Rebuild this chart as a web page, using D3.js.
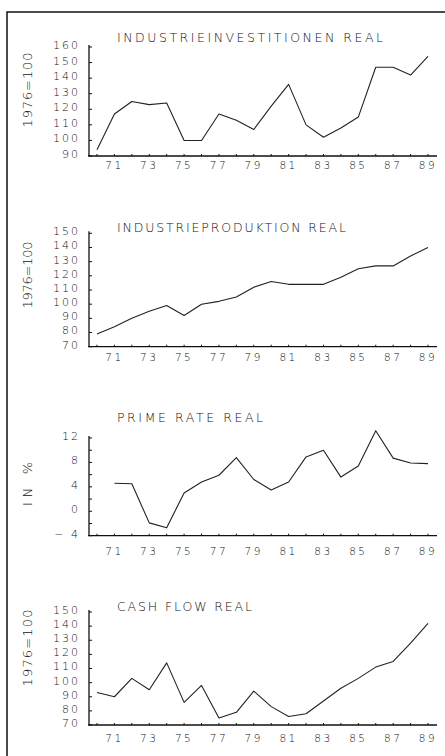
<!DOCTYPE html>
<html>
<head>
<meta charset="utf-8">
<script src="https://cdn.jsdelivr.net/npm/d3@7/dist/d3.min.js"></script>
<style>
  body { margin: 0; background: #fff; }
  svg { display: block; }
  text { font-family: "DejaVu Sans", sans-serif; font-weight: 200; fill: #111; }
</style>
</head>
<body>
<div id="chart"></div>
<script>
// data
var years = [1970, 1971, 1972, 1973, 1974, 1975, 1976, 1977, 1978, 1979,
             1980, 1981, 1982, 1983, 1984, 1985, 1986, 1987, 1988, 1989];
var investitionen = [94, 117, 125, 123, 124, 100, 100, 117, 113, 107,
                     122, 136, 110, 102, 108, 115, 147, 147, 142, 154];
var produktion = [79, 84, 90, 95, 99, 92, 100, 102, 105, 112,
                  116, 114, 114, 114, 119, 125, 127, 127, 134, 140];
var primeRate = [null, 4.6, 4.5, -1.9, -2.7, 3.0, 4.8, 5.9, 8.8, 5.2,
                 3.5, 4.8, 8.9, 10.0, 5.6, 7.4, 13.2, 8.7, 7.9, 7.8];
var cashFlow = [93, 90, 103, 95, 114, 86, 98, 75, 79, 94,
                83, 76, 78, 87, 96, 103, 111, 115, 128, 142];

var xTickYears = [1971, 1973, 1975, 1977, 1979, 1981, 1983, 1985, 1987, 1989];
var xTickLabels = ["71", "73", "75", "77", "79", "81", "83", "85", "87", "89"];
var investTicks = [90, 100, 110, 120, 130, 140, 150, 160];
var indexTicks = [70, 80, 90, 100, 110, 120, 130, 140, 150];
var rateTicks = [-4, 0, 4, 8, 12];
var rateMinor = [-4, -2, 0, 2, 4, 6, 8, 10, 12];

var W = 445, H = 756;

var svg = d3.select("#chart").append("svg")
    .attr("width", W)
    .attr("height", H);

// outer frame (runs off the right and bottom of the scan)
svg.append("path")
    .attr("d", "M7," + (H + 5) + "V12H" + (W + 5))
    .attr("fill", "none")
    .attr("stroke", "#111")
    .attr("stroke-width", 1.5);

var x = d3.scaleLinear().domain([1970, 1989]).range([97, 428]);

var panels = [
  { title: "INDUSTRIEINVESTITIONEN REAL", titleY: 37, titleLen: 266,
    yTitle: "1976=100", yTitleY: 90, yTitleLen: 75,
    values: investitionen, domain: [90, 160], range: [156, 47],
    ticks: investTicks, minor: investTicks, labelOff: 9 },
  { title: "INDUSTRIEPRODUKTION REAL", titleY: 227, titleLen: 229,
    yTitle: "1976=100", yTitleY: 275, yTitleLen: 67,
    values: produktion, domain: [70, 150], range: [346.7, 233.3],
    ticks: indexTicks, minor: indexTicks, labelOff: 11 },
  { title: "PRIME RATE REAL", titleY: 417, titleLen: 146,
    yTitle: "IN %", yTitleY: 484, yTitleLen: 44,
    values: primeRate, domain: [-4, 12], range: [535.7, 438],
    ticks: rateTicks, minor: rateMinor, labelOff: 16 },
  { title: "CASH FLOW REAL", titleY: 606, titleLen: 135,
    yTitle: "1976=100", yTitleY: 648, yTitleLen: 77,
    values: cashFlow, domain: [70, 150], range: [725, 612],
    ticks: indexTicks, minor: indexTicks, labelOff: 13 }
];

panels.forEach(function(p) {
    var y = d3.scaleLinear().domain(p.domain).range(p.range);
    var g = svg.append("g");
    var axisY = p.range[0];

    // title
    g.append("text")
        .attr("x", 117)
        .attr("y", p.titleY)
        .attr("dy", "0.36em")
        .attr("font-size", 12.5)
        .attr("textLength", p.titleLen)
        .attr("lengthAdjust", "spacing")
        .text(p.title);

    // rotated unit label
    g.append("text")
        .attr("transform", "translate(27," + p.yTitleY + ") rotate(-90)")
        .attr("text-anchor", "middle")
        .attr("dy", "0.36em")
        .attr("font-size", 13)
        .attr("textLength", p.yTitleLen)
        .attr("lengthAdjust", "spacing")
        .text(p.yTitle);

    // y axis
    g.append("line")
        .attr("x1", 89).attr("x2", 89)
        .attr("y1", p.range[1] - 2).attr("y2", axisY)
        .attr("stroke", "#111").attr("stroke-width", 1.3);

    g.selectAll(".ytick")
        .data(p.minor)
        .enter().append("line")
        .attr("x1", 89).attr("x2", 92)
        .attr("y1", function(d) { return y(d); })
        .attr("y2", function(d) { return y(d); })
        .attr("stroke", "#111").attr("stroke-width", 1);

    g.selectAll(".ylab")
        .data(p.ticks)
        .enter().append("text")
        .attr("x", 80)
        .attr("y", function(d) { return y(d) - 2; })
        .attr("dy", "0.36em")
        .attr("text-anchor", "end")
        .attr("font-size", 11)
        .attr("letter-spacing", 2)
        .text(function(d) { return d < 0 ? "\u2212 " + Math.abs(d) : d; });

    // x axis
    g.append("line")
        .attr("x1", 88).attr("x2", 437)
        .attr("y1", axisY).attr("y2", axisY)
        .attr("stroke", "#111").attr("stroke-width", 1.3);

    g.selectAll(".xtick")
        .data(years)
        .enter().append("line")
        .attr("x1", function(d) { return x(d); })
        .attr("x2", function(d) { return x(d); })
        .attr("y1", axisY).attr("y2", axisY - 2)
        .attr("stroke", "#111").attr("stroke-width", 1);

    g.selectAll(".xlab")
        .data(xTickYears)
        .enter().append("text")
        .attr("x", function(d) { return x(d); })
        .attr("y", axisY + p.labelOff)
        .attr("dy", "0.36em")
        .attr("text-anchor", "middle")
        .attr("font-size", 10.5)
        .attr("letter-spacing", 2.5)
        .text(function(d, i) { return xTickLabels[i]; });

    // the series
    var line = d3.line()
        .defined(function(d) { return d != null; })
        .x(function(d, i) { return x(years[i]); })
        .y(function(d) { return y(d); });

    g.append("path")
        .attr("d", line(p.values))
        .attr("fill", "none")
        .attr("stroke", "#222")
        .attr("stroke-width", 1.1)
        .attr("stroke-linejoin", "round");
});
</script>
</body>
</html>
